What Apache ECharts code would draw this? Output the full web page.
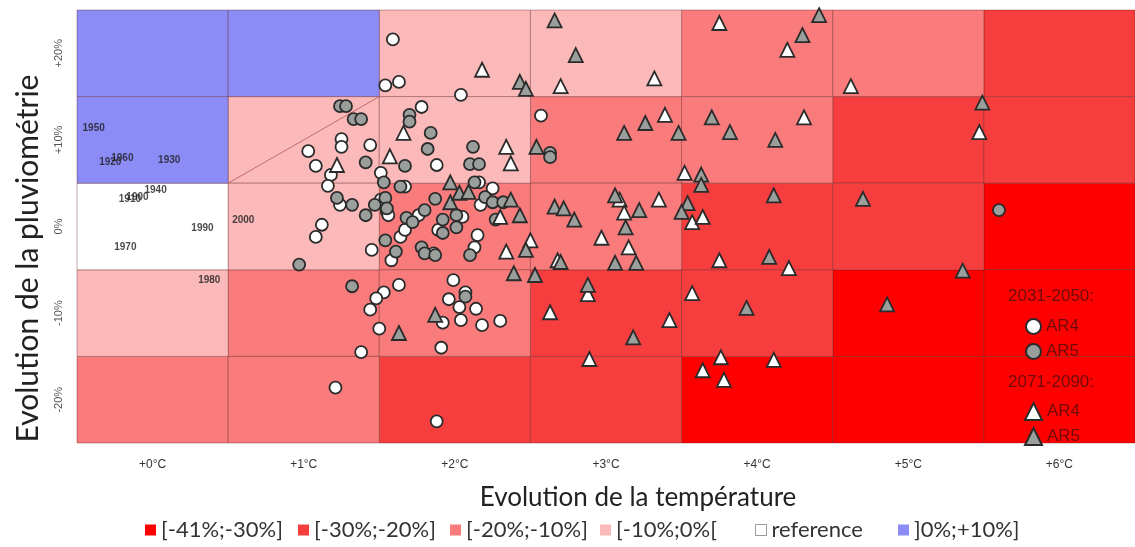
<!DOCTYPE html>
<html>
<head>
<meta charset="utf-8">
<script src="https://cdn.jsdelivr.net/npm/echarts@6/dist/echarts.min.js"></script>
<style>
html,body{margin:0;padding:0;background:#fff;}
#chart{width:1135px;height:547px;}
</style>
</head>
<body>
<div id="chart"></div>
<script>
// ---- categories ----
const tempLabels = ['+0°C', '+1°C', '+2°C', '+3°C', '+4°C', '+5°C', '+6°C'];
const precipLabels = ['-20%', '-10%', '0%', '+10%', '+20%'];
const tempValues = [0, 1, 2, 3, 4, 5, 6];
const precipValues = [20, 10, 0, -10, -20]; // rows, top to bottom

// ---- impact classes ----
const classLabels = ['[-41%;-30%]', '[-30%;-20%]', '[-20%;-10%]', '[-10%;0%[', 'reference', ']0%;+10%]'];
const classColors = ['#ff0000', '#f73e3e', '#f97b7b', '#fbb9b9', '#ffffff', '#8c8cf6'];
// class index of each cell, rows +20% .. -20%, columns +0°C .. +6°C
const cellClass = [
  [5, 5, 3, 3, 2, 2, 1],
  [5, 3, 3, 2, 2, 1, 1],
  [4, 3, 2, 2, 1, 1, 0],
  [3, 2, 2, 1, 1, 0, 0],
  [2, 2, 1, 1, 0, 0, 0]
];

// ---- reference years (temperature, precipitation, year) ----
const yearPoints = [
  [-0.39, 11.4, '1950'], [-0.28, 7.45, '1920'], [-0.20, 7.9, '1960'], [0.11, 7.7, '1930'],
  [0.02, 4.2, '1940'], [-0.15, 3.2, '1910'], [-0.10, 3.4, '1900'], [0.33, -0.2, '1990'],
  [0.60, 0.75, '2000'], [-0.18, -2.4, '1970'], [0.375, -6.2, '1980']
];

// ---- diagonal line ----
const diagLine = [[0.5, 5], [1.5, 15]];

// ---- 2031-2050 ----
const ar4_2031 = [
  [1.59,21.6],[1.54,16.3],[1.63,16.7],[2.04,15.2],
  [1.25,10.1],[1.25,9.2],[1.44,9.4],[1.03,8.7],[1.08,7.0],[1.18,5.95],[1.51,6.2],[1.16,4.7],
  [1.78,13.8],[1.88,7.1],[2.16,5.1],[1.67,4.6],[2.57,12.8],
  [1.24,2.5],[1.55,1.7],[1.12,0.2],[1.08,-1.2],[1.45,-2.7],
  [1.58,-3.9],[1.64,-1.2],[1.67,-0.4],[1.86,-3.1],[1.51,3.1],[1.56,1.3],[2.25,4.4],[2.17,2.5],
  [1.76,1.3],[2.05,1.1],[1.89,-0.4],[2.15,-1.0],[2.13,-2.4],
  [1.63,-6.75],[1.53,-7.6],[1.48,-8.3],[1.44,-9.6],[1.50,-11.8],[1.38,-14.5],[1.99,-6.2],
  [2.07,-7.6],[1.96,-8.4],[2.03,-9.3],[2.14,-9.5],[1.92,-11.1],[2.04,-10.8],[2.18,-11.4],
  [2.30,-10.9],[1.91,-14.0],[1.21,-18.6],[1.88,-22.5]
];
const ar5_2031 = [
  [1.24,13.9],[1.28,13.9],[1.33,12.4],[1.38,12.4],[1.41,7.4],
  [1.70,12.9],[1.70,12.1],[1.84,10.8],[1.82,8.95],[1.67,7.0],[2.12,9.2],[2.10,7.2],[2.16,7.2],
  [2.13,5.1],[1.53,5.1],[1.64,4.6],[2.63,8.5],[2.63,8.0],
  [1.22,3.3],[1.32,2.5],[1.41,1.3],[1.47,2.5],[1.54,3.3],[0.97,-4.4],
  [1.61,-2.9],[1.54,-1.6],[1.78,-2.4],[1.55,2.1],[1.87,3.2],[2.20,3.4],[2.25,2.8],[2.32,2.8],
  [2.27,0.8],[1.80,1.9],[1.68,1.0],[1.72,0.5],[1.92,0.8],[2.01,1.3],[1.92,-0.75],[2.01,-0.1],
  [2.10,-3.3],[1.80,-3.1],[1.87,-3.3],
  [1.32,-6.9],[2.07,-8.1],[5.60,1.9]
];

// ---- 2071-2090 ----
const ar4_2071 = [
  [2.18,18.1],[2.70,16.2],[3.32,17.1],[3.75,23.5],[4.20,20.4],[4.62,16.2],[4.31,12.6],[5.47,10.9],
  [3.39,12.9],[1.66,10.8],[1.57,8.1],[2.34,9.2],[2.37,7.3],[1.22,7.1],[2.30,1.1],[2.34,-2.9],
  [2.50,-1.6],[2.68,-3.9],[3.09,3.1],[3.35,3.1],[3.12,1.6],[2.97,-1.3],[3.15,-2.4],[2.88,-7.8],
  [3.52,6.2],[3.57,0.5],[3.64,1.1],[3.75,-3.9],[4.21,-4.8],[2.63,-9.9],[3.42,-10.8],[2.89,-15.3],
  [3.57,-7.7],[3.76,-15.1],[3.64,-16.6],[3.78,-17.7],[4.11,-15.4]
];
const ar5_2071 = [
  [2.43,16.7],[2.47,15.9],[2.66,23.8],[2.80,19.8],[4.41,24.4],[4.30,22.1],[3.70,12.6],[3.82,10.9],
  [4.12,10.0],[5.49,14.3],[4.70,3.2],[3.12,10.8],[3.26,11.95],[3.48,10.8],[2.54,9.2],[1.97,5.1],
  [1.97,2.8],[2.03,3.9],[2.09,4.0],[2.37,3.1],[2.43,1.3],[2.47,-2.7],[2.39,-5.4],[2.53,-5.6],
  [2.66,2.3],[2.72,2.1],[2.79,0.8],[3.06,3.6],[3.22,1.9],[3.13,-0.1],[2.70,-4.1],[3.06,-4.2],
  [3.20,-4.2],[2.88,-6.75],[3.63,6.0],[3.63,4.8],[3.54,2.7],[3.50,1.7],[4.11,3.6],[4.08,-3.5],
  [5.36,-5.1],[3.18,-12.8],[3.93,-9.4],[4.86,-9.0],[1.87,-10.2],[1.63,-12.3]
];

// ---- build cell series ----
const cellSeries = classLabels.map((label, ci) => {
  const data = [];
  cellClass.forEach((row, ri) => row.forEach((c, ti) => {
    if (c === ci) data.push([tempValues[ti], precipValues[ri]]);
  }));
  return {
    name: label,
    type: 'custom',
    xAxisIndex: 1, yAxisIndex: 1,
    itemStyle: { color: classColors[ci] },
    silent: true,
    z: 1,
    renderItem: function (params, api) {
      const t = api.value(0), v = api.value(1);
      const p0 = api.coord([t - 0.5, v + 5]);
      const p1 = api.coord([t + 0.5, v - 5]);
      return {
        type: 'rect',
        shape: { x: p0[0], y: p0[1], width: p1[0] - p0[0], height: p1[1] - p0[1] },
        style: { fill: api.visual('color'), stroke: 'rgba(90,20,20,0.35)', lineWidth: 1 }
      };
    },
    data: data
  };
});

const markerBorder = { borderColor: '#2b2b2b', borderWidth: 1.8 };
function scatterSeries(name, data, symbol, size, fill) {
  return {
    name: name, type: 'scatter', xAxisIndex: 1, yAxisIndex: 1,
    symbol: symbol, symbolSize: size, z: 5,
    itemStyle: Object.assign({ color: fill, opacity: 1 }, markerBorder),
    data: data
  };
}

// bottom legend: one legend component per class, placed along the bottom
const legendLeftPx = [145, 298, 450, 600, 755, 898];
const classLegends = classLabels.map((n, i) => ({
  data: [n === 'reference'
    ? { name: n, itemStyle: { borderColor: '#999', borderWidth: 1 } }
    : { name: n }],
  left: legendLeftPx[i], top: 519, padding: 0, orient: 'horizontal',
  icon: 'rect', itemWidth: 11, itemHeight: 11, selectedMode: false,
  textStyle: { fontSize: 22, fontFamily: 'Lato', color: '#333' }
}));

const chart = echarts.init(document.getElementById('chart'), null, { renderer: 'canvas' });
const legendTextColor = '#6e0a0a';
const option = {
  animation: false,
  grid: { left: 77, top: 10, width: 1064, height: 433 },
  xAxis: [
    {
      type: 'category', data: tempLabels, gridIndex: 0,
      axisLine: { show: false }, axisTick: { show: false }, splitLine: { show: false },
      axisLabel: { margin: 16, fontSize: 12, color: '#333', fontFamily: 'Liberation Sans' },
      name: 'Evolution de la température', nameLocation: 'middle', nameGap: 42,
      nameTextStyle: { fontSize: 26, fontFamily: 'Lato', color: '#222', padding: [0, 0, 0, 64] }
    },
    { type: 'value', min: -0.5, max: 6.5, show: false }
  ],
  yAxis: [
    {
      type: 'category', data: precipLabels,
      axisLine: { show: false }, axisTick: { show: false }, splitLine: { show: false },
      axisLabel: { rotate: 90, margin: 13, fontSize: 11, color: '#555', fontFamily: 'Liberation Sans' },
      name: 'Evolution de la pluviométrie', nameLocation: 'middle', nameGap: 34,
      nameTextStyle: { fontSize: 30, fontFamily: 'Lato', color: '#222', padding: [0, 64, 0, 0] }
    },
    { type: 'value', min: -25, max: 25, show: false }
  ],
  legend: classLegends.concat([
    {
      data: ['AR4 (2031-2050)', 'AR5 (2031-2050)'],
      formatter: n => n.split(' ')[0],
      orient: 'vertical', left: 1020, top: 313,
      itemWidth: 15, itemHeight: 15, itemGap: 8, selectedMode: false,
      textStyle: { fontSize: 17, fontFamily: 'Liberation Sans', color: legendTextColor }
    },
    {
      data: ['AR4 (2071-2090)', 'AR5 (2071-2090)'],
      formatter: n => n.split(' ')[0],
      orient: 'vertical', left: 1019, top: 397,
      itemWidth: 17, itemHeight: 17, itemGap: 6, selectedMode: false,
      textStyle: { fontSize: 17, fontFamily: 'Liberation Sans', color: legendTextColor }
    }
  ]),
  graphic: [
    { type: 'text', left: 1008, top: 288, z: 100,
      style: { text: '2031-2050:', fontSize: 17, fontFamily: 'Liberation Sans', fill: legendTextColor } },
    { type: 'text', left: 1008, top: 374, z: 100,
      style: { text: '2071-2090:', fontSize: 17, fontFamily: 'Liberation Sans', fill: legendTextColor } }
  ],
  series: cellSeries.concat([
    {
      name: 'diag', type: 'line', xAxisIndex: 1, yAxisIndex: 1, z: 3,
      data: diagLine, symbol: 'none', silent: true,
      lineStyle: { color: '#c46a6a', width: 1 }
    },
    {
      name: 'years', type: 'scatter', xAxisIndex: 1, yAxisIndex: 1, z: 4,
      symbolSize: 2, itemStyle: { color: 'rgba(0,0,0,0)' }, silent: true,
      label: {
        show: true, position: 'inside', formatter: p => p.value[2],
        fontSize: 10, fontWeight: 'bold', color: '#1a1a1a', fontFamily: 'Liberation Sans Narrow, Liberation Sans'
      },
      data: yearPoints
    },
    scatterSeries('AR4 (2031-2050)', ar4_2031, 'circle', 12, '#ffffff'),
    scatterSeries('AR5 (2031-2050)', ar5_2031, 'circle', 12, '#9a9f9c'),
    scatterSeries('AR4 (2071-2090)', ar4_2071, 'triangle', 14, '#ffffff'),
    scatterSeries('AR5 (2071-2090)', ar5_2071, 'triangle', 14, '#9a9f9c')
  ])
};
chart.setOption(option);
</script>
</body>
</html>
